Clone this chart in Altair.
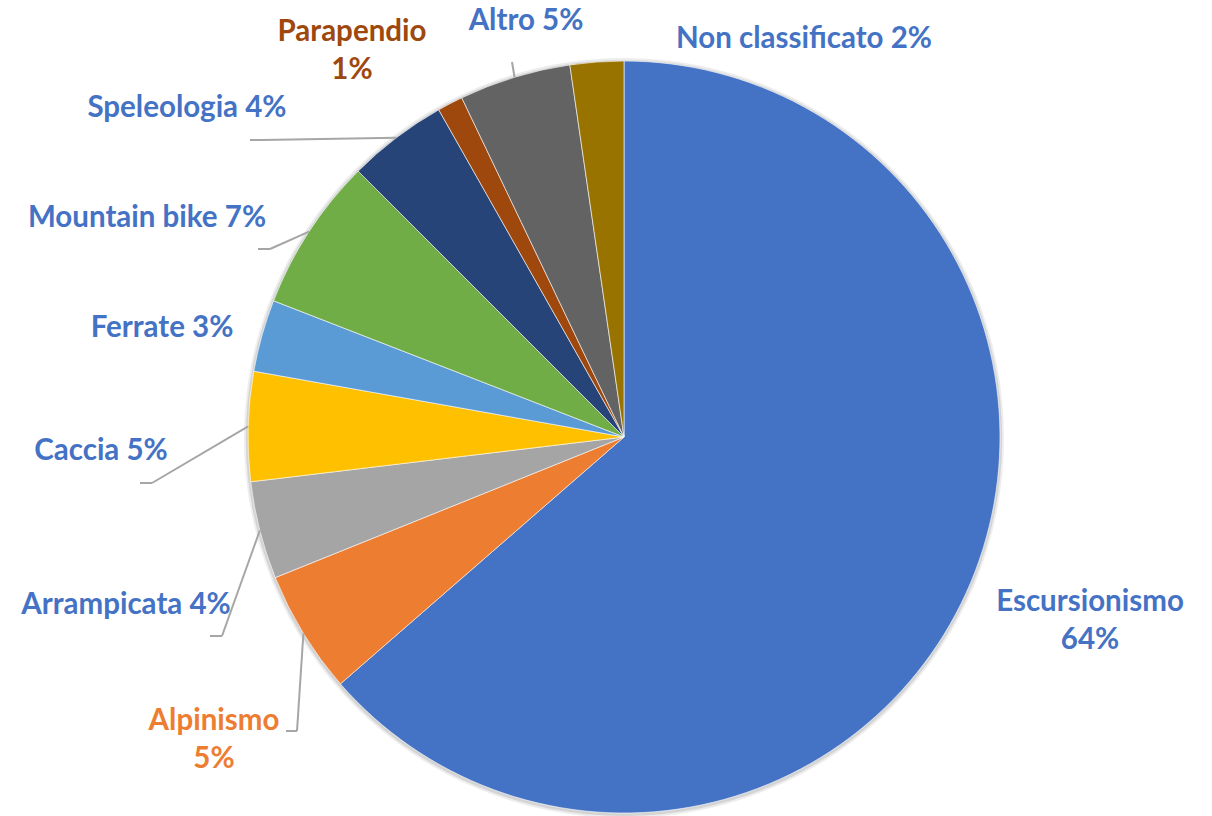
import altair as alt
import pandas as pd
import math

# ---- data ----
categories = ["Escursionismo", "Alpinismo", "Arrampicata", "Caccia", "Ferrate",
              "Mountain bike", "Speleologia", "Parapendio", "Altro", "Non classificato"]
values = [63.6, 5.3, 4.2, 4.7, 3.1, 6.6, 4.3, 1.1, 4.8, 2.3]

# ---- styles / layout ----
slice_colors = ["#4472C4", "#ED7D31", "#A5A5A5", "#FFC000", "#5B9BD5",
                "#70AD47", "#264478", "#9E480E", "#636363", "#997300"]
label_colors = ["#4472C4", "#ED7D31", "#4472C4", "#4472C4", "#4472C4",
                "#4472C4", "#4472C4", "#9E480E", "#4472C4", "#4472C4"]
label_sep = ["\n", "\n", " ", " ", " ", " ", " ", "\n", " ", " "]
label_x = [1090, 214, 126, 101, 162, 147, 187, 352, 526, 804]
label_y = [602, 721, 605, 451, 328, 218, 108, 32, 21, 39]
# leader line elbow and end points (None = no leader line)
elbow_x = [None, 297, 222, 152, None, 270, 262, None, 512, None]
elbow_y = [None, 731, 636, 483, None, 249, 140, None, 62, None]
end_x = [None, 286, 210, 140, None, 258, 250, None, 512, None]
end_y = [None, 731, 636, 483, None, 249, 140, None, 62, None]

CX, CY, R = 624, 437, 376
W, H = 1212, 816

labels = [f"{c}{s}{round(v)}%" for c, s, v in zip(categories, label_sep, values)]

df = pd.DataFrame({
    "category": categories,
    "value": values,
    "idx": list(range(len(categories))),
    "label": labels,
    "lcolor": label_colors,
    "lx": label_x,
    "ly": label_y,
    "ex": elbow_x,
    "ey": elbow_y,
    "fx": end_x,
    "fy": end_y,
})

base = alt.Chart(df)

shadow = alt.Chart(pd.DataFrame({"a": [0]})).mark_arc(
    radius=R + 4, theta=0, theta2=2 * math.pi, color="#9a9a9a", opacity=0.18
).encode(x=alt.value(CX), y=alt.value(CY + 1))
shadow2 = alt.Chart(pd.DataFrame({"a": [0]})).mark_arc(
    radius=R + 2, theta=0, theta2=2 * math.pi, color="#8a8a8a", opacity=0.25
).encode(x=alt.value(CX), y=alt.value(CY + 1))

pie = base.mark_arc(radius=R, stroke="white", strokeWidth=0.6).encode(
    theta=alt.Theta("value:Q", stack=True),
    order=alt.Order("idx:Q"),
    color=alt.Color("category:N", scale=alt.Scale(domain=categories, range=slice_colors), legend=None),
    x=alt.value(CX),
    y=alt.value(CY),
)

lines_base = base.transform_joinaggregate(
    total="sum(value)"
).transform_window(
    cum="sum(value)", sort=[alt.SortField("idx")], frame=[None, 0]
).transform_calculate(
    mid="(datum.cum - datum.value/2) / datum.total * 2 * PI",
).transform_calculate(
    sx=f"{CX} + {R} * sin(datum.mid)",
    sy=f"{CY} - {R} * cos(datum.mid)",
).transform_filter("isValid(datum.ex)")

seg1 = lines_base.mark_rule(color="#A6A6A6", strokeWidth=2).encode(
    x=alt.X("sx:Q", scale=None), y=alt.Y("sy:Q", scale=None),
    x2="ex:Q", y2="ey:Q",
)
seg2 = lines_base.mark_rule(color="#A6A6A6", strokeWidth=2).encode(
    x=alt.X("ex:Q", scale=None), y=alt.Y("ey:Q", scale=None),
    x2="fx:Q", y2="fy:Q",
)

text = base.mark_text(
    font="Lato", fontWeight="bold", fontSize=29.5, align="center",
    baseline="middle", lineBreak="\n", lineHeight=38,
).encode(
    x=alt.X("lx:Q", scale=None),
    y=alt.Y("ly:Q", scale=None),
    text="label:N",
    color=alt.Color("lcolor:N", scale=None),
)

chart = alt.layer(shadow, shadow2, pie, seg1, seg2, text).properties(
    width=W, height=H, padding=0, autosize=alt.AutoSizeParams(type="none"),
    background="white",
).configure_view(stroke=None)

chart.save("out.html", embed_options={"renderer": "svg", "actions": False})
